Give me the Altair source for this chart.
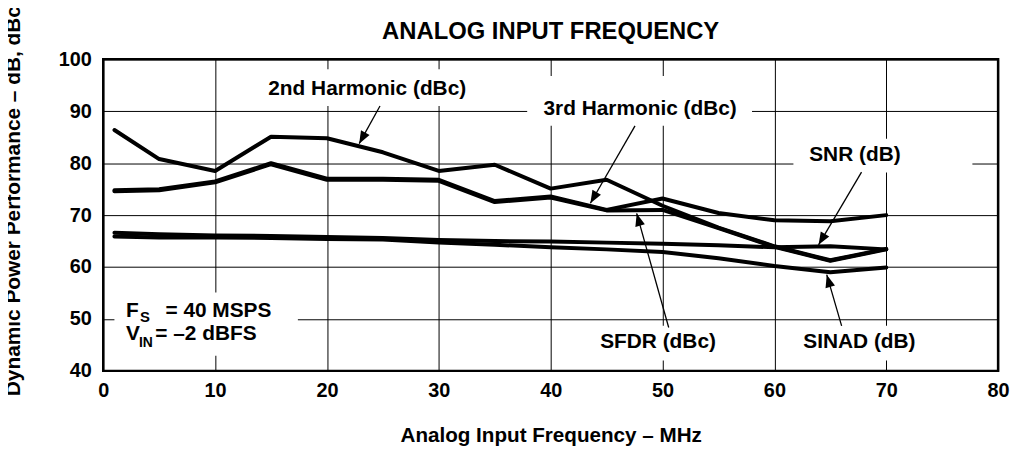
import math
import altair as alt
import pandas as pd

# ---------------- data ----------------
freq = [1, 5, 10, 15, 20, 25, 30, 35, 40, 45, 50, 55, 60, 65, 70]
h2 = [86.4, 80.8, 78.5, 85.1, 84.8, 82.1, 78.5, 79.7, 75.1, 76.8, 71.8, 67.6, 64.0, 61.3, 63.5]
h3 = [74.8, 75.0, 76.5, 80.0, 77.0, 77.0, 76.8, 72.7, 73.6, 71.0, 73.2, 70.4, 69.0, 68.8, 70.0]
sfdr = [74.6, 74.8, 76.3, 79.8, 76.8, 76.8, 76.6, 72.5, 73.4, 70.9, 71.0, 67.5, 63.9, 61.2, 63.4]
snr = [66.6, 66.3, 66.1, 66.0, 65.8, 65.6, 65.2, 65.0, 64.9, 64.7, 64.5, 64.2, 63.8, 64.0, 63.4]
sinad = [65.9, 65.7, 65.7, 65.6, 65.4, 65.3, 64.7, 64.3, 63.8, 63.4, 62.9, 61.7, 60.2, 59.0, 59.9]

x_ticks = [0, 10, 20, 30, 40, 50, 60, 70, 80]
y_ticks = [40, 50, 60, 70, 80, 90, 100]

# annotation labels (centre positions in data units)
label_text = ["2nd Harmonic (dBc)", "3rd Harmonic (dBc)", "SNR (dB)", "SFDR (dBc)", "SINAD (dB)"]
label_x = [23.6, 48.0, 67.2, 49.6, 67.6]
label_y = [94.3, 90.4, 81.5, 45.5, 45.5]

# white areas behind the labels (they interrupt the grid)
box_x = [14.0, 37.9, 61.7, 43.8, 62.0, 1.0]
box_x2 = [33.2, 58.0, 77.7, 55.5, 73.5, 17.4]
box_y = [91.0, 87.2, 78.2, 42.0, 42.0, 42.9]
box_y2 = [98.1, 96.8, 84.7, 48.7, 48.7, 55.1]

# arrows: tail -> tip
arrow_x_tail = [24.74, 47.54, 67.79, 50.55, 66.01]
arrow_y_tail = [91.02, 87.20, 78.27, 48.35, 48.66]
arrow_x_tip = [22.88, 43.55, 63.95, 47.69, 64.68]
arrow_y_tip = [83.76, 72.29, 64.27, 70.33, 58.53]

# conditions text (with subscripts)
cond_text = ["F", "S", "= 40 MSPS", "V", "IN", "= \u20132 dBFS"]
cond_x = [2.04, 3.28, 5.56, 2.04, 3.19, 4.65]
cond_y = [50.45, 49.42, 50.45, 45.98, 44.59, 45.98]
cond_size = [21, 15, 21, 21, 14, 21]

# ---------------- chart ----------------
W, H = 902, 314
XDOM, YDOM = [0, 80], [40, 100]
FONT = "Liberation Sans"

rows = []
for name, vals in [("2nd Harmonic", h2), ("3rd Harmonic", h3), ("SFDR", sfdr),
                   ("SNR", snr), ("SINAD", sinad)]:
    for f, v in zip(freq, vals):
        rows.append({"series": name, "freq": f, "value": v})
df = pd.DataFrame(rows)

xs = alt.Scale(domain=XDOM, nice=False, zero=False)
ys = alt.Scale(domain=YDOM, nice=False, zero=False)

x_axis = alt.Axis(values=x_ticks, grid=True, gridColor="black", gridWidth=1, gridOpacity=1,
                  domain=False, ticks=False, labelFont=FONT, labelFontSize=20,
                  labelFontWeight="bold", labelColor="black", labelPadding=10,
                  labelFlush=False, labelOverlap=False,
                  title="Analog Input Frequency \u2013 MHz", titleFont=FONT, titleFontSize=20.8,
                  titleFontWeight="bold", titleColor="black", titleX=W / 2, titleY=65,
                  titleBaseline="middle", titleAlign="center")
y_axis = alt.Axis(values=y_ticks, grid=True, gridColor="black", gridWidth=1, gridOpacity=1,
                  domain=False, ticks=False, labelFont=FONT, labelFontSize=20,
                  labelFontWeight="bold", labelColor="black", labelPadding=12,
                  labelOverlap=False,
                  title="Dynamic Power Performance \u2013 dB, dBc", titleFont=FONT,
                  titleFontSize=21, titleFontWeight="bold", titleColor="black",
                  titleAngle=270, titleX=-90, titleY=339, titleAlign="left",
                  titleBaseline="middle")

base_lines = alt.Chart(df).mark_line(color="black", strokeWidth=4, strokeCap="round",
                                     strokeJoin="round").encode(
    x=alt.X("freq:Q", scale=xs, axis=x_axis),
    y=alt.Y("value:Q", scale=ys, axis=y_axis),
    detail="series:N",
)

boxes = alt.Chart(pd.DataFrame({"x": box_x, "x2": box_x2, "y": box_y, "y2": box_y2})).mark_rect(
    fill="white", stroke=None).encode(
    x=alt.X("x:Q", scale=xs), x2="x2:Q", y=alt.Y("y:Q", scale=ys), y2="y2:Q")

labels = alt.Chart(pd.DataFrame({"t": label_text, "x": label_x, "y": label_y})).mark_text(
    font=FONT, fontSize=21, fontWeight="bold", color="black", align="center",
    baseline="middle").encode(x=alt.X("x:Q", scale=xs), y=alt.Y("y:Q", scale=ys), text="t:N")

cond = alt.Chart(pd.DataFrame({"t": cond_text, "x": cond_x, "y": cond_y, "s": cond_size})).mark_text(
    font=FONT, fontWeight="bold", color="black", align="left", baseline="alphabetic").encode(
    x=alt.X("x:Q", scale=xs), y=alt.Y("y:Q", scale=ys), text="t:N",
    size=alt.Size("s:Q", scale=None, legend=None))

kx = W / (XDOM[1] - XDOM[0])
ky = H / (YDOM[1] - YDOM[0])
angles = []
for xt, yt, xp, yp in zip(arrow_x_tail, arrow_y_tail, arrow_x_tip, arrow_y_tip):
    dx = (xp - xt) * kx
    dy = -(yp - yt) * ky
    angles.append(math.degrees(math.atan2(dx, -dy)) % 360)
arr = pd.DataFrame({"xt": arrow_x_tail, "yt": arrow_y_tail, "xp": arrow_x_tip,
                    "yp": arrow_y_tip, "a": angles})

shafts = alt.Chart(arr).mark_rule(color="black", strokeWidth=1.3).encode(
    x=alt.X("xt:Q", scale=xs), y=alt.Y("yt:Q", scale=ys), x2="xp:Q", y2="yp:Q")
heads = alt.Chart(arr).mark_point(shape="M0,0L0.7,1.8L-0.7,1.8Z", filled=True, fill="black",
                                  stroke=None, size=200, opacity=1).encode(
    x=alt.X("xp:Q", scale=xs), y=alt.Y("yp:Q", scale=ys),
    angle=alt.Angle("a:Q", scale=None))

title_df = pd.DataFrame({"t": ["vs", "ANALOG INPUT FREQUENCY"]})
title1 = alt.Chart(title_df.iloc[[0]]).mark_text(font=FONT, fontSize=24, fontWeight="bold",
                                                 color="black", align="center",
                                                 baseline="alphabetic").encode(
    x=alt.value(W / 2), y=alt.value(-53), text="t:N")
title2 = alt.Chart(title_df.iloc[[1]]).mark_text(font=FONT, fontSize=24, fontWeight="bold",
                                                 color="black", align="center",
                                                 baseline="alphabetic").encode(
    x=alt.value(W / 2), y=alt.value(-21), text="t:N")

chart = alt.layer(base_lines, boxes, labels, cond, shafts, heads, title1, title2).properties(
    width=W, height=H,
    autosize=alt.AutoSizeParams(type="none"),
    padding={"left": 96, "top": 50, "right": 14, "bottom": 79},
    background="white",
).configure_view(stroke="black", strokeWidth=2.5)

chart.save("out.html", embed_options={"renderer": "svg", "actions": False})
